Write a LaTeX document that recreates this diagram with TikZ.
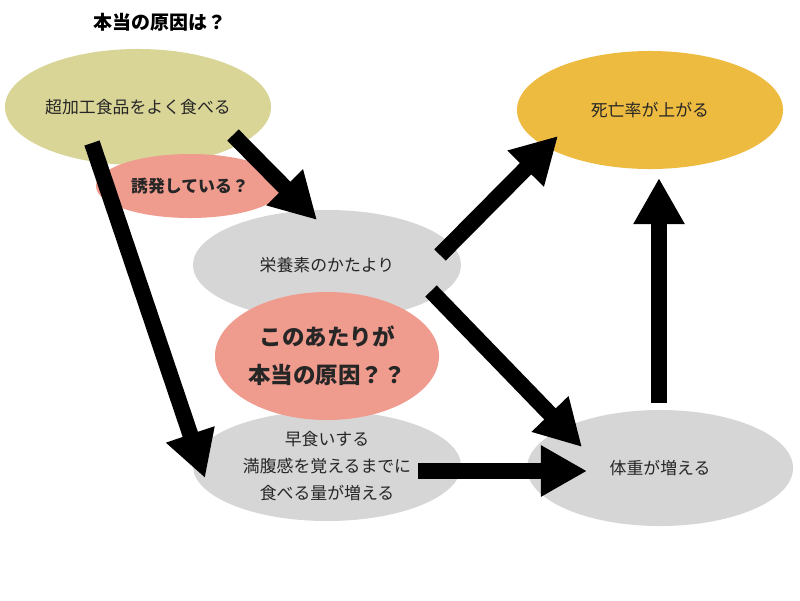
\documentclass[tikz,border=0pt]{standalone}
\usepackage{fontspec}
\setmainfont{Noto Sans CJK JP}
\usetikzlibrary{arrows.meta,shapes.geometric,calc}

\definecolor{foodfill}{HTML}{D9D597}
\definecolor{pinkfill}{HTML}{EF9B8E}
\definecolor{grayfill}{HTML}{D6D6D6}
\definecolor{deathfill}{HTML}{EDBB40}

\begin{document}
\begin{tikzpicture}[
		x=0.025cm,
		y=-0.025cm,
		blob/.style={
			ellipse,
			inner sep=0pt,
			align=center,
			text=black!85,
			font=\fontsize{12}{19}\selectfont
		},
		graybox/.style={
			blob,
			fill=grayfill,
			minimum width=6.7cm,
			minimum height=2.75cm
		},
		question/.style={
			blob,
			fill=pinkfill,
			font=\bfseries\fontsize{12}{19}\selectfont
		},
		bigarrow/.style={
			-{Triangle[length=1.15cm,width=1.2cm]},
			line width=0.4cm
		}
		]
		
		\useasboundingbox (0,0) rectangle (800,600);
		
		\node[font=\bfseries\fontsize{13.5}{16}\selectfont] (title) at (160,22)
		{本当の原因は？};
		
		\node[blob, fill=foodfill, minimum width=6.65cm, minimum height=2.9cm] (food) at (138,107)
		{超加工食品をよく食べる};
		
		\node[question, minimum width=4.7cm, minimum height=1.6cm] (induce) at (190,186)
		{誘発している？};
		
		\node[graybox] (nutrient) at (327,265)
		{栄養素のかたより};
		
		\node[graybox] (overeat) at (327,466)
		{早食いする\\
			満腹感を覚えるまでに\\
			食べる量が増える};
		
		\node[question, minimum width=5.6cm, minimum height=3.2cm,
		font=\bfseries\fontsize{16}{27}\selectfont] (cause) at (327,356)
		{このあたりが\\
			本当の原因？？};
		
		\node[blob, fill=deathfill, minimum width=6.65cm, minimum height=2.95cm] (death) at (650,110)
		{死亡率が上がる};
		
		\node[graybox, minimum width=6.65cm, minimum height=2.9cm] (weight) at (660,468)
		{体重が増える};
		
		\draw[bigarrow] ($(food)+(-46,36)$) -- ($(overeat)+(-122,12)$);
		\draw[bigarrow] ($(food)+(95,28)$) -- ($(nutrient)+(-10,-45)$);
		\draw[bigarrow] ($(nutrient)+(113,-10)$) -- ($(death)+(-92,26)$);
		\draw[bigarrow] ($(nutrient)+(104,26)$) -- ($(weight)+(-78,-21)$);
		\draw[bigarrow] ($(overeat)+(91,5)$) -- ($(weight)+(-73,3)$);
		\draw[bigarrow] ($(weight)+(-1,-65)$) -- ($(death)+(9,68)$);
		
	\end{tikzpicture}
\end{document}
